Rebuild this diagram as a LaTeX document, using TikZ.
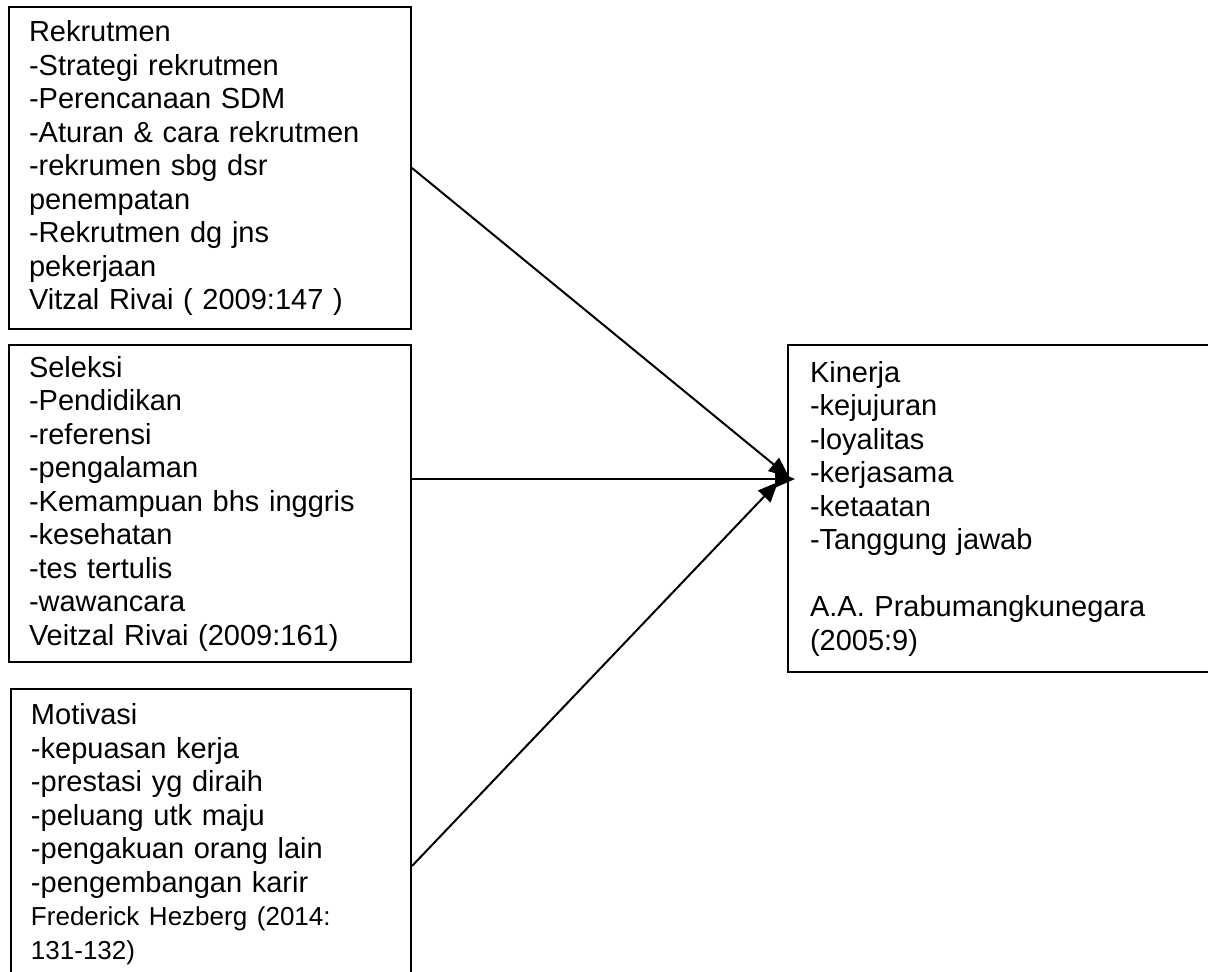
\documentclass[tikz,border=0pt]{standalone}
\usepackage{fontspec}
\setmainfont{Liberation Sans}
\usepackage{tikz}
\usetikzlibrary{arrows.meta,positioning,calc}
\newcommand{\boxfont}{\fontsize{14.5pt}{16.75pt}\selectfont}
\newcommand{\reffont}{\fontsize{13pt}{16.75pt}\selectfont}
\tikzset{
  box/.style={draw=black,line width=1pt,align=left,anchor=north west,inner xsep=10pt,inner ysep=0pt,font=\boxfont},
  arr/.style={-{Triangle[length=10pt,width=8.5pt]},line width=1pt},
}
\begin{document}
\begin{tikzpicture}[x=0.5pt,y=-0.5pt]
  \useasboundingbox (0,0) rectangle (1208,971);
  % --- variabel bebas ---
  \node[box, text width=181pt, minimum height=161pt] (rekrutmen) at (8,6)
    {Rekrutmen\\-Strategi rekrutmen\\-Perencanaan SDM\\-Aturan \& cara rekrutmen\\-rekrumen sbg dsr\\penempatan\\-Rekrutmen dg jns\\pekerjaan\\Vitzal Rivai ( 2009:147 )};
  \node[box, text width=181pt, minimum height=158.5pt] (seleksi) at (8,344)
    {Seleksi\\-Pendidikan\\-referensi\\-pengalaman\\-Kemampuan bhs inggris\\-kesehatan\\-tes tertulis\\-wawancara\\Veitzal Rivai (2009:161)};
  \node[box, text width=180pt, minimum height=145pt] (motivasi) at (10,688)
    {Motivasi\\-kepuasan kerja\\-prestasi yg diraih\\-peluang utk maju\\-pengakuan orang lain\\-pengembangan karir\\{\reffont Frederick Hezberg (2014:}\\{\reffont 131-132)}};

  % --- variabel terikat ---
  \node[box, inner xsep=11pt, text width=200pt, minimum height=163.5pt] (kinerja) at (787,344)
    {Kinerja\\-kejujuran\\-loyalitas\\-kerjasama\\-ketaatan\\-Tanggung jawab\\\mbox{}\\A.A. Prabumangkunegara\\(2005:9)};

  % arrow ends on the left side of Kinerja
  \coordinate (tipr) at ($(kinerja.north west)+(2,133)$);
  \coordinate (tips) at ($(kinerja.north west)+(8,135)$);
  \coordinate (tipm) at ($(kinerja.north west)+(-9,138)$);
  \coordinate (motout) at ($(motivasi.north east)+(0,178)$);
  \draw[arr] (rekrutmen.east) -- (tipr);
  \draw[arr] (seleksi.east |- tips) -- (tips);
  \draw[arr] (motout) -- (tipm);
\end{tikzpicture}
\end{document}
